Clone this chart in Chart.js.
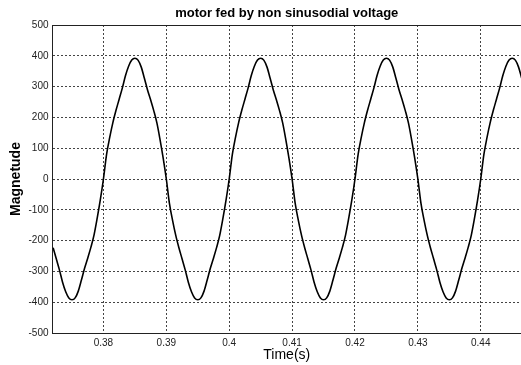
<!DOCTYPE html>
<html>
<head>
<meta charset="utf-8">
<title>motor fed by non sinusodial voltage</title>
<script src="https://cdn.jsdelivr.net/npm/chart.js@4.4.0/dist/chart.umd.min.js"></script>
<style>
  html, body { margin: 0; padding: 0; background: #fff; }
  #wrap { width: 521px; height: 365px; }
</style>
</head>
<body>
<div id="wrap"><canvas id="myChart" width="521" height="365"></canvas></div>
<script>
// samples, one every 0.5 ms starting at t = 0.372 s
const tStart = 0.372;
const tStep = 0.0005;
const magnitude = [
  -223, -259, -295, -335, -366, -386, -392, -386, -364, -328, -290, -257, -222, -182, -128, -68,
  0, 80, 135, 183, 223, 259, 295, 335, 366, 386, 392, 386, 364, 328, 290, 257, 222, 182, 128, 68,
  0, -80, -135, -183, -223, -259, -295, -335, -366, -386, -392, -386, -364, -328, -290, -257, -222, -182, -128, -68,
  0, 80, 135, 183, 223, 259, 295, 335, 366, 386, 392, 386, 364, 328, 290, 257, 222, 182, 128, 68,
  0, -80, -135, -183, -223, -259, -295, -335, -366, -386, -392, -386, -364, -328, -290, -257, -222, -182, -128, -68,
  0, 80, 135, 183, 223, 259, 295, 335, 366, 386, 392, 386, 364, 328, 290, 257, 222, 182, 128, 68,
  0, -80, -135, -183, -223, -259, -295, -335, -366, -386, -392, -386, -364, -328, -290, -257, -222, -182, -128, -68,
  0, 80, 135, 183, 223, 259, 295, 335, 366, 386, 392, 386, 364, 328
];
const xMin = 0.3719, xMax = 0.4464;
const yMin = -500, yMax = 500;
const chartTitle = 'motor fed by non sinusodial voltage';

const points = magnitude.map((v, i) => ({ x: tStart + i * tStep, y: v }));

Chart.defaults.font.family = "'Liberation Sans', Arial, sans-serif";
Chart.defaults.color = '#111';

// white page + title centred over the axes box, top edge of the box
const frame = {
  id: 'frame',
  beforeDraw(chart) {
    const ctx = chart.ctx;
    ctx.save();
    ctx.fillStyle = '#fff';
    ctx.fillRect(0, 0, chart.width, chart.height);
    ctx.restore();
  },
  afterDraw(chart) {
    const { ctx, chartArea } = chart;
    ctx.save();
    ctx.strokeStyle = '#222';
    ctx.lineWidth = 1;
    ctx.beginPath();
    ctx.moveTo(chartArea.left, Math.round(chartArea.top) + 0.5);
    ctx.lineTo(chartArea.right, Math.round(chartArea.top) + 0.5);
    ctx.stroke();

    ctx.fillStyle = '#000';
    ctx.font = "bold 13px 'Liberation Sans', Arial, sans-serif";
    ctx.textAlign = 'center';
    ctx.textBaseline = 'middle';
    ctx.fillText(chartTitle, (chartArea.left + chartArea.right) / 2, 13);
    ctx.restore();
  }
};

const gridStyle = {
  color: '#444',
  lineWidth: 1,
  drawTicks: false
};

new Chart(document.getElementById('myChart'), {
  type: 'line',
  data: {
    datasets: [{
      data: points,
      borderColor: '#000',
      borderWidth: 1.6,
      pointRadius: 0,
      cubicInterpolationMode: 'monotone',
      fill: false
    }]
  },
  options: {
    responsive: false,
    animation: false,
    layout: { padding: { top: 25, left: 0, right: 0, bottom: 0 } },
    plugins: {
      legend: { display: false },
      tooltip: { enabled: false },
      title: { display: false }
    },
    scales: {
      x: {
        type: 'linear',
        min: xMin,
        max: xMax,
        afterFit(scale) { scale.height = 32; },
        grid: gridStyle,
        border: { display: true, color: '#222', width: 1, dash: [2, 2] },
        ticks: {
          stepSize: 0.01,
          includeBounds: false,
          padding: 4,
          maxRotation: 0,
          font: { size: 10 },
          color: '#222',
          callback: v => String(+v.toFixed(2))
        },
        title: {
          display: true,
          text: 'Time(s)',
          color: '#000',
          font: { size: 14 },
          padding: { top: 0, bottom: 1 }
        }
      },
      y: {
        min: yMin,
        max: yMax,
        afterFit(scale) { scale.width = 52.5; },
        grid: gridStyle,
        border: { display: true, color: '#222', width: 1, dash: [2, 2] },
        ticks: {
          stepSize: 100,
          padding: 4,
          font: { size: 10 },
          color: '#222'
        },
        title: {
          display: true,
          text: 'Magnetude',
          color: '#000',
          font: { size: 14, weight: 'bold' },
          padding: { top: 8, bottom: 0 }
        }
      }
    }
  },
  plugins: [frame]
});
</script>
</body>
</html>
